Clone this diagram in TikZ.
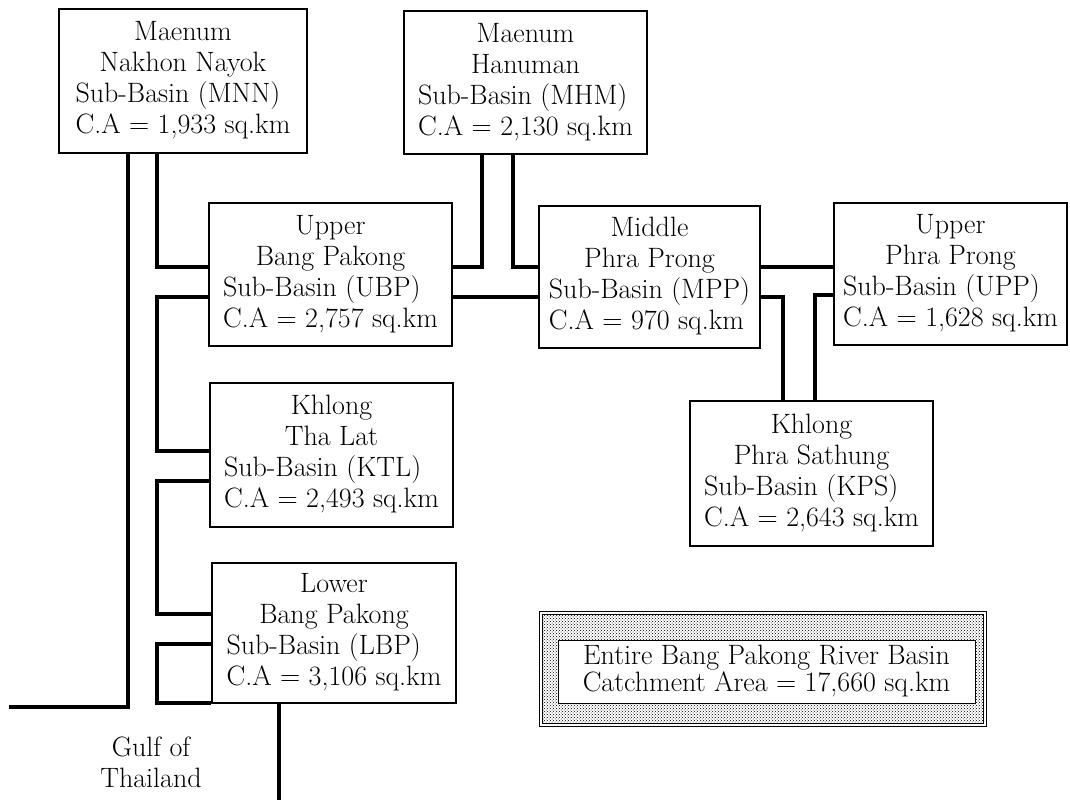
\documentclass[tikz,border=0pt]{standalone}
\usepackage{tikz}
\usetikzlibrary{positioning, patterns, calc}
\tikzset{
	basinnode/.style={
			shape=rectangle,
			draw=black,
			line width=1.6pt,
			fill=white,
			minimum width=243pt,
			minimum height=143pt,
			inner sep=0pt,
			font=\fontsize{28}{31}\selectfont
		},
	totalnode/.style={
			shape=rectangle,
			draw=black,
			double,
			line width=1.2pt,
			double distance=1.6pt,
			pattern=crosshatch dots,
			pattern color=black,
			minimum width=444pt,
			minimum height=112pt,
			inner sep=0pt
		},
	totaltext/.style={
			shape=rectangle,
			draw=black,
			line width=0.6pt,
			fill=white,
			minimum width=417pt,
			minimum height=63pt,
			inner sep=0pt,
			align=center,
			font=\fontsize{28}{27}\selectfont
		},
	gulftext/.style={
			align=center,
			inner sep=0pt,
			font=\fontsize{28}{31}\selectfont
		},
	riverline/.style={
			line width=3.4pt,
			draw=black
		}
}
\newcommand{\basintext}[4]{%
	\begin{tabular}{@{}l@{}}
		\multicolumn{1}{@{}c@{}}{#1}\\
		\multicolumn{1}{@{}c@{}}{#2}\\
		Sub-Basin (#3)\\
		C.A = #4 sq.km
	\end{tabular}}

\begin{document}
\begin{tikzpicture}[x=1pt, y=1pt]
	\useasboundingbox (0,0) rectangle (1070,-800);

	\node[basinnode, minimum width=248pt, minimum height=144pt] (mnn) at (183,-81) {\basintext{Maenum}{Nakhon Nayok}{MNN}{1,933}};
	\node[basinnode] (mhm) at (525.5,-82.5) {\basintext{Maenum}{Hanuman}{MHM}{2,130}};
	\node[basinnode] (ubp) at (330.5,-274.5) {\basintext{Upper}{Bang Pakong}{UBP}{2,757}};
	\node[basinnode, minimum width=221pt, minimum height=142pt] (mpp) at (649.5,-277) {\basintext{Middle}{Phra Prong}{MPP}{970}};
	\node[basinnode, minimum width=233pt, minimum height=142pt] (upp) at (950.5,-274) {\basintext{Upper}{Phra Prong}{UPP}{1,628}};
	\node[basinnode, minimum height=144pt] (ktl) at (331.5,-455) {\basintext{Khlong}{Tha Lat}{KTL}{2,493}};
	\node[basinnode, minimum width=244pt, minimum height=140pt] (lbp) at (334,-633) {\basintext{Lower}{Bang Pakong}{LBP}{3,106}};
	\node[basinnode, minimum height=145pt] (kps) at (811.5,-473.5) {\basintext{Khlong}{Phra Sathung}{KPS}{2,643}};

	\node[totalnode] (total) at (763,-669) {};
	\node[totaltext] (totaltxt) at (766.5,-671.5) {Entire Bang Pakong River Basin\\Catchment Area = 17,660 sq.km};

	\node[gulftext] (gulf) at (151,-762) {Gulf of\\Thailand};

	\coordinate (mnnout) at (128,-707);
	\coordinate (gulfend) at (9,-707);
	\coordinate (mnnj) at (157,-267);
	\coordinate (ubpj1) at (157,-297);
	\coordinate (ubpj2) at (157,-451);
	\coordinate (ktlj1) at (157,-481);
	\coordinate (ktlj2) at (157,-614);
	\coordinate (lbpj1) at (157,-644);
	\coordinate (lbpj2) at (157,-703);
	\coordinate (lbpout) at (279,-800);
	\coordinate (mhmj1) at (482,-267);
	\coordinate (mhmj2) at (513,-267);
	\coordinate (mppj) at (783,-297);
	\coordinate (uppj) at (815,-295);

	\draw[riverline] (mnn.south -| mnnout) -- (mnnout) -- (gulfend);
	\draw[riverline] (mnn.south -| mnnj) -- (mnnj) -- (ubp.west |- mnnj);
	\draw[riverline] (ubp.west |- ubpj1) -- (ubpj1) -- (ubpj2) -- (ktl.west |- ubpj2);
	\draw[riverline] (ktl.west |- ktlj1) -- (ktlj1) -- (ktlj2) -- (lbp.west |- ktlj2);
	\draw[riverline] (lbp.west |- lbpj1) -- (lbpj1) -- (lbpj2) -- (lbp.west |- lbpj2);
	\draw[riverline] (lbp.south -| lbpout) -- (lbpout);
	\draw[riverline] (mhm.south -| mhmj1) -- (mhmj1) -- (ubp.east |- mhmj1);
	\draw[riverline] (mhm.south -| mhmj2) -- (mhmj2) -- (mpp.west |- mhmj2);
	\draw[riverline] (ubp.east |- ubpj1) -- (mpp.west |- ubpj1);
	\draw[riverline] (mpp.east |- mhmj1) -- (upp.west |- mhmj1);
	\draw[riverline] (mpp.east |- mppj) -- (mppj) -- (kps.north -| mppj);
	\draw[riverline] (upp.west |- uppj) -- (uppj) -- (kps.north -| uppj);

\end{tikzpicture}
\end{document}
